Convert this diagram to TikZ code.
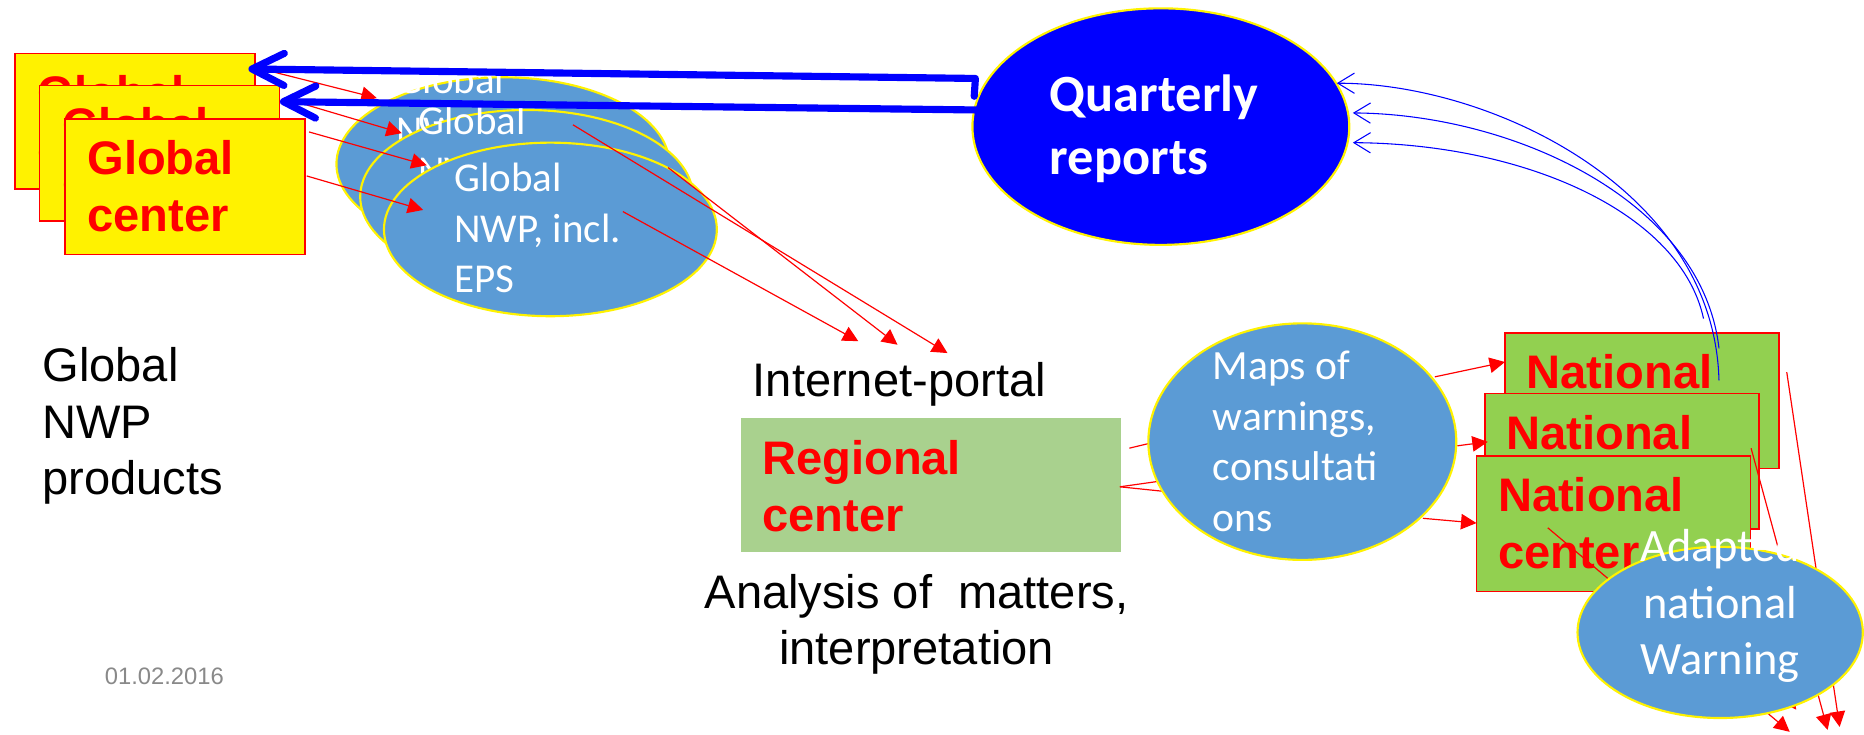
\documentclass[tikz,border=0pt]{standalone}
\usepackage{fontspec}
\setmainfont{Liberation Sans}
\newfontfamily\calib{Carlito}
\usetikzlibrary{arrows.meta,shapes.geometric}
\definecolor{nwpblue}{HTML}{5B9BD5}
\definecolor{natgreen}{HTML}{92D050}
\definecolor{reggreen}{HTML}{A9D18E}
\definecolor{dategray}{HTML}{898989}
\begin{document}
\begin{tikzpicture}[x=1pt,y=-1pt,
  gbox/.style={draw=red, line width=1.4pt, fill=yellow, minimum width=202pt, minimum height=114pt, anchor=north west, inner sep=0pt, outer sep=0pt},
  nbox/.style={draw=red, line width=1.4pt, fill=natgreen, minimum width=230.5pt, minimum height=114pt, anchor=north west, inner sep=0pt, outer sep=0pt},
  rbox/.style={fill=reggreen, minimum width=320pt, minimum height=112.4pt, anchor=north west, inner sep=0pt, outer sep=0pt},
  bigred/.style={font=\fontsize{39.6}{47.5}\selectfont\bfseries, text=red, align=left, anchor=base west, inner sep=0pt},
  plain/.style={font=\fontsize{39.6}{47.5}\selectfont, text=black, inner sep=0pt},
  bell/.style={ellipse, draw=yellow, line width=1.8pt, fill=nwpblue, inner sep=0pt},
  nwpell/.style={bell, minimum width=280pt, minimum height=146pt},
  wtext/.style={text=white, align=left, anchor=base west, inner sep=0pt},
  nwptext/.style={wtext, font=\calib\fontsize{34.5}{42.7}\selectfont},
  redarr/.style={draw=red, line width=1pt, -{Triangle[length=13pt,width=13pt]}},
  bluethick/.style={draw=blue, line width=6pt, line join=round, line cap=round, -{Straight Barb[length=27pt,width=27pt,round]}},
  bluethin/.style={draw=blue, line width=0.9pt, -{Straight Barb[length=14pt,width=17pt]}}
]
\useasboundingbox (0,0) rectangle (1568,618);

% ---------- Global centers (text anchors = baseline of last line) ----------
\node[gbox] (gc1) at (12.6,45) {};
\node[bigred] (gc1t) at (31.6,139.5) {Global\\center};
\node[gbox] (gc2) at (33.2,72) {};
\node[bigred] (gc2t) at (52.2,166.5) {Global\\center};
\node[gbox] (gc3) at (54.4,100) {};
\node[bigred] (gc3t) at (73.4,194.5) {Global\\center};

% ---------- Global NWP ellipses ----------
\node[nwpell] (e1) at (423,138) {};
\node[nwptext] (e1t) at (333.6,163.9) {Global\\NWP, incl.\\EPS};
\node[nwpell] (e2) at (443,165.5) {};
\node[nwptext] (e2t) at (351.7,198.2) {Global\\NWP, incl.\\EPS};
\node[nwpell] (e3) at (463,193) {};
\node[nwptext] (e3t) at (382,246.4) {Global\\NWP, incl.\\EPS};

% ---------- texts ----------
\node[plain, align=left, anchor=base west] (gnp) at (35.5,416) {Global\\NWP\\products};
\node[font=\fontsize{20}{24}\selectfont, text=dategray, anchor=base west, inner sep=0pt] (date) at (88,576) {01.02.2016};
\node[plain, anchor=base west] (ip) at (633,333.6) {Internet-portal};
\node[plain, align=center, anchor=base] (an) at (771,559) {Analysis of\ \ matters,\\interpretation};

% ---------- coordinates for connectors ----------
\coordinate (ra1) at (229.8,60.5);  \coordinate (ra2) at (317,82.5);
\coordinate (rb1) at (258,88.3);    \coordinate (rb2) at (338,112);
\coordinate (rc1) at (260,111);     \coordinate (rc2) at (359,139);
\coordinate (rd1) at (258,148);     \coordinate (rd2) at (356,176.6);
\coordinate (l1a) at (524,178);     \coordinate (l1b) at (722,287);
\coordinate (l2a) at (562,141);     \coordinate (l2b) at (755,290);
\coordinate (l3a) at (482,105);     \coordinate (l3b) at (797,297);

% ---------- red arrows global -> NWP -> portal ----------
\draw[redarr] (ra1) -- (ra2);
\draw[redarr] (rb1) -- (rb2);
\draw[redarr] (rc1) -- (rc2);
\draw[redarr] (rd1) -- (rd2);
\draw[redarr] (l1a) -- (l1b);
\draw[redarr] (l2a) -- (l2b);
\draw[redarr] (l3a) -- (l3b);

% ---------- Quarterly reports ----------
\node[ellipse, draw=yellow, line width=1.8pt, fill=blue, minimum width=317pt, minimum height=199pt, inner sep=0pt] (qr) at (976.5,106.5) {};
\node[wtext, font=\calib\bfseries\fontsize{44}{53}\selectfont] (qrt) at (883,147) {Quarterly\\reports};

\coordinate (q1a) at (819.5,81);  \coordinate (q1b) at (820.5,66);  \coordinate (g1tip) at (209,58);
\coordinate (q2a) at (821.5,92.5); \coordinate (g2tip) at (235.5,85.5);
\draw[bluethick] (q1a) -- (q1b) -- (g1tip);
\draw[bluethick] (q2a) -- (g2tip);

% ---------- Regional center ----------
\node[rbox] (rc) at (623,351.6) {};
\node[bigred] (rct) at (641,447) {Regional\\center};

\coordinate (rr1) at (950,377);    \coordinate (rr1e) at (1000,365);
\coordinate (rr2) at (942,409.5);  \coordinate (rr2e) at (1000,401.3);
\coordinate (rr3e) at (1000,415.5);
\draw[redarr] (rr1) -- (rr1e);
\draw[redarr] (rr2) -- (rr2e);
\draw[redarr] (rr2) -- (rr3e);

% ---------- Maps ellipse ----------
\node[bell, minimum width=259pt, minimum height=199pt] (maps) at (1095.5,371.5) {};
\node[wtext, font=\calib\fontsize{35}{42.8}\selectfont] (mapst) at (1020,447.4) {Maps of\\warnings,\\consultati\\ons};

% ---------- National centers ----------
\node[nbox] (nc1) at (1266,280) {};
\node[bigred] (nc1t) at (1284,374.5) {National\\center};
\node[nbox] (nc2) at (1249,331) {};
\node[bigred] (nc2t) at (1267,425.5) {National\\center};
\node[nbox] (nc3) at (1242,383.7) {};
\node[bigred] (nc3t) at (1260,478) {National\\center};

\coordinate (m1a) at (1207,317);   \coordinate (m1b) at (1266,304.5);
\coordinate (m2a) at (1226,375);   \coordinate (m2b) at (1251.5,371.7);
\coordinate (m3a) at (1197,436);   \coordinate (m3b) at (1242,440);
\draw[redarr] (m1a) -- (m1b);
\draw[redarr] (m2a) -- (m2b);
\draw[redarr] (m3a) -- (m3b);

% ---------- thin blue curves national -> quarterly ----------
\coordinate (b1s) at (1446,320);  \coordinate (b1e) at (1124.5,70);
\coordinate (b2s) at (1446,293);  \coordinate (b2e) at (1138,95);
\coordinate (b3s) at (1433,268);  \coordinate (b3e) at (1138,120);
\draw[bluethin] (b1s) .. controls (1442,160) and (1255,70) .. (b1e);
\draw[bluethin] (b2s) .. controls (1432,170) and (1275,96) .. (b2e);
\draw[bluethin] (b3s) .. controls (1414,180) and (1285,121) .. (b3e);

% ---------- red arrows down ----------
\coordinate (n1a) at (1503,313);  \coordinate (n1b) at (1547.5,611.5);
\coordinate (n2a) at (1473,377);  \coordinate (n2b) at (1537.4,614);
\coordinate (n3a) at (1302,444);  \coordinate (n3b) at (1505.5,615.6);
\coordinate (n4a) at (1470,540);  \coordinate (n4b) at (1511,597);
\draw[redarr] (n1a) -- (n1b);
\draw[redarr] (n2a) -- (n2b);
\draw[redarr] (n3a) -- (n3b);
\draw[redarr] (n4a) -- (n4b);

% ---------- Adapted national warning ----------
\node[bell, minimum width=240pt, minimum height=144pt] (ad) at (1447,532) {};
\node[text=white, align=center, anchor=base, inner sep=0pt, font=\calib\fontsize{39}{47.6}\selectfont] (adt) at (1447,567.7) {Adapted\\national\\Warning};
\end{tikzpicture}
\end{document}
